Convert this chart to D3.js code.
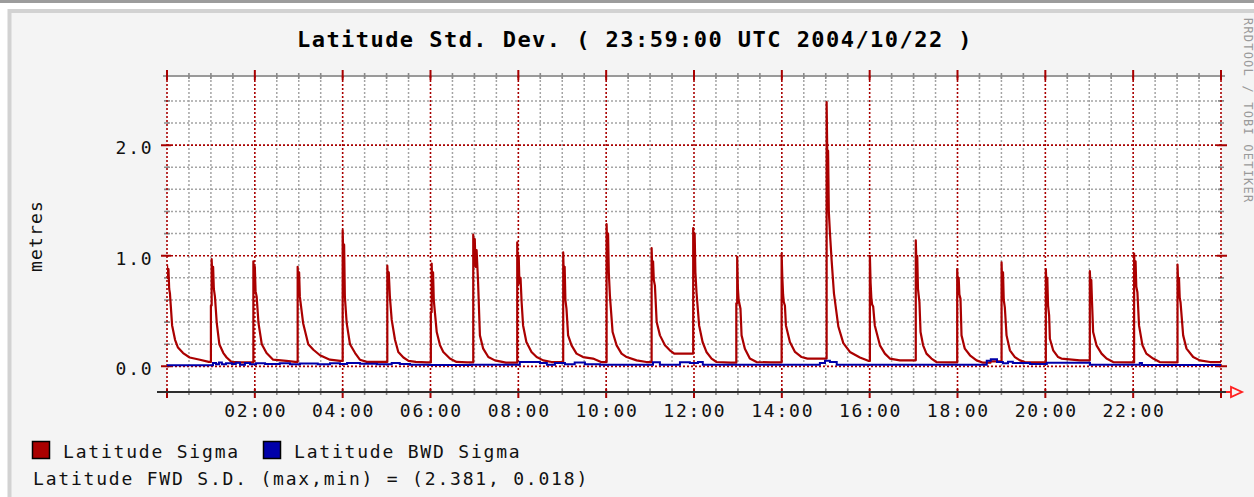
<!DOCTYPE html>
<html>
<head>
<meta charset="utf-8">
<script src="https://cdn.jsdelivr.net/npm/d3@7"></script>
<style>
  html, body { margin: 0; padding: 0; background: #ffffff; }
  svg { display: block; }
  text { font-family: "DejaVu Sans Mono", "Liberation Mono", monospace; }
</style>
</head>
<body>
<svg id="chart" width="1254" height="497"></svg>
<script>
// ── Data (minutes since 00:00 UTC, metres) ───────────────────
const fwdSigma = [
  [0,0.92],[1,0.80],[2,0.88],[3,0.70],[4,0.66],[7,0.37],[11,0.24],[15,0.17],[22,0.12],[31,0.08],[45,0.06],[57,0.04],
  [60,0.55],[61,0.97],[62,0.80],[63,0.90],[64,0.70],[65.5,0.63],[68,0.39],[71.5,0.20],[77,0.12],[81.5,0.08],[88,0.04],[100,0.035],
  [118,0.95],[119,0.78],[120,0.90],[121,0.68],[122.5,0.63],[125,0.39],[129.5,0.20],[136,0.12],[145,0.06],[163,0.05],[175,0.04],
  [178.5,0.90],[179.5,0.75],[180.5,0.85],[181.5,0.63],[186,0.39],[193,0.20],[200,0.15],[209,0.10],[222.5,0.06],[236.5,0.05],
  [240,1.23],[241,0.95],[242,1.10],[243,0.63],[245.5,0.39],[250,0.20],[257,0.12],[263.5,0.06],[273,0.04],
  [301,0.91],[302,0.75],[303,0.85],[304.5,0.63],[307,0.42],[311.5,0.24],[316,0.13],[323,0.08],[330,0.05],[340,0.04],[355,0.035],
  [360.5,0.49],[361.6,0.93],[362.5,0.70],[363.5,0.85],[364.5,0.60],[366,0.49],[368.5,0.31],[373,0.19],[377.5,0.13],[386.5,0.07],[395.5,0.04],[410,0.035],
  [418.4,1.19],[419.5,0.95],[420.5,1.15],[421.5,0.90],[423,1.05],[425,0.76],[427.5,0.28],[432,0.16],[439,0.084],[448,0.054],[463,0.033],
  [478.5,1.12],[479.5,0.85],[480.5,1.0],[481.5,0.75],[483,0.80],[484.5,0.58],[486.5,0.37],[491,0.22],[498,0.13],[505,0.084],[514,0.054],[525.5,0.039],
  [541.3,1.03],[542.3,0.75],[543.3,0.90],[544.3,0.60],[545.8,0.52],[548,0.28],[552.7,0.19],[559.5,0.115],[568.5,0.084],[582,0.07],[593,0.039],
  [600.6,1.285],[601.6,1.0],[602.6,1.2],[603.6,0.85],[605.1,0.64],[608.8,0.31],[614.3,0.19],[621,0.115],[628,0.084],[641.6,0.054],[655,0.039],
  [662.1,1.07],[663.1,0.85],[664.1,0.95],[665.1,0.78],[666.6,0.73],[669,0.40],[673.5,0.28],[680.3,0.19],[687,0.145],[693,0.115],
  [718.9,1.25],[719.9,1.0],[720.9,1.2],[721.9,0.85],[723.4,0.67],[727,0.37],[731.7,0.22],[737,0.13],[744,0.07],[750.8,0.039],[770,0.033],
  [777.8,0.57],[779,0.99],[780,0.70],[781,0.60],[783.5,0.52],[785,0.28],[789.5,0.16],[796.3,0.07],[805.4,0.039],[825,0.035],
  [839.7,1.02],[840.7,0.80],[841.7,0.65],[842.7,0.58],[844.2,0.55],[845.6,0.37],[851,0.22],[858,0.13],[867,0.084],[875,0.07],
  [901.2,2.39],[902.2,1.86],[903.2,1.95],[904.2,1.40],[905.7,1.21],[908,0.96],[911.2,0.66],[917.2,0.36],[924,0.21],[933,0.13],[946.7,0.08],[958,0.05],
  [960.3,1.0],[961.3,0.75],[962.3,0.62],[963.3,0.56],[964.8,0.54],[967,0.37],[974,0.19],[980.8,0.115],[987.6,0.07],[1001.3,0.054],
  [1023,1.14],[1024,0.90],[1025,1.0],[1026,0.70],[1028,0.58],[1029.5,0.31],[1033,0.19],[1037.6,0.115],[1044.4,0.07],[1051.2,0.039],[1070,0.035],
  [1079.6,0.88],[1080.6,0.70],[1081.6,0.80],[1082.6,0.65],[1084.1,0.61],[1085.5,0.28],[1090,0.16],[1097,0.10],[1106,0.054],[1115,0.033],[1125,0.045],
  [1140.2,0.94],[1141.2,0.70],[1142.2,0.85],[1143.2,0.60],[1144.7,0.53],[1147,0.28],[1151.6,0.145],[1158.4,0.084],[1165.2,0.054],[1172,0.039],[1195,0.035],
  [1200.7,0.88],[1201.7,0.70],[1202.7,0.80],[1203.7,0.55],[1205.2,0.46],[1206.2,0.25],[1210.7,0.145],[1217.5,0.084],[1222,0.07],[1247,0.054],
  [1260.8,0.86],[1261.8,0.70],[1262.8,0.78],[1263.8,0.58],[1265.3,0.31],[1269.9,0.19],[1276.8,0.115],[1283.6,0.07],[1292.7,0.039],[1315,0.035],
  [1321.3,1.02],[1322.3,0.80],[1323.3,0.95],[1324.3,0.72],[1325.8,0.67],[1328,0.37],[1332.7,0.19],[1338,0.115],[1347.3,0.07],[1356.3,0.039],[1375,0.035],
  [1380.6,0.92],[1381.6,0.72],[1382.6,0.80],[1383.6,0.62],[1384.7,0.58],[1388.3,0.28],[1392.9,0.16],[1402,0.084],[1411,0.054],[1425,0.039],[1440,0.039]
];

const bwdSigma = [
  [0,0.010],[62.8,0.030],[67,0.020],[71,0.035],[75,0.018],[80.6,0.028],[88.8,0.022],[94,0.032],[99.7,0.015],
  [106.5,0.030],[113.4,0.020],[121.6,0.028],[134,0.022],[154,0.028],[168,0.020],[181.7,0.025],[206,0.018],
  [222.7,0.028],[236.3,0.022],[246,0.030],[263.6,0.024],[287,0.020],[307,0.030],[318,0.022],[332,0.015],
  [359,0.012],[414,0.015],[482,0.040],[509.5,0.030],[519,0.015],[530,0.030],[543.7,0.018],[557,0.035],
  [571,0.020],[591.5,0.015],[664,0.038],[673.4,0.015],[700.8,0.038],[714.4,0.030],[725.4,0.040],[732,0.015],
  [892,0.030],[899,0.050],[905.7,0.040],[915,0.015],[1120,0.050],[1125.5,0.065],[1134,0.040],[1142,0.028],
  [1149,0.042],[1155.6,0.030],[1169,0.030],[1179,0.022],[1202,0.033],[1261,0.015],[1285,0.015],[1329,0.030],
  [1332,0.012],[1440,0.012]
];

const majorMinutes = [0,120,240,360,480,600,720,840,960,1080,1200,1320,1440];
const minorMinutes = [30,60,90,150,180,210,270,300,330,390,420,450,510,540,570,630,660,690,750,780,810,
                      870,900,930,990,1020,1050,1110,1140,1170,1230,1260,1290,1350,1380,1410];
const timeLabels   = ["02:00","04:00","06:00","08:00","10:00","12:00","14:00","16:00","18:00","20:00","22:00"];
const labelMinutes = [120,240,360,480,600,720,840,960,1080,1200,1320];

const yMajor  = [0, 1, 2];
const yLabels = ["0.0", "1.0", "2.0"];
const yMinor  = [0.2,0.4,0.6,0.8,1.2,1.4,1.6,1.8,2.2,2.4];

const legendNames = ["Latitude Sigma", "Latitude BWD Sigma"];
const legendColors = ["#aa0000", "#0000aa"];
const fwdStats = [2.381, 0.018];

// ── Layout ───────────────────────────────────────────────────
const PLOT = { left: 167, right: 1221, top: 76, bottom: 392 };
const MONO = 1.8;   // letter-spacing for the small pixel-ish font

const svg = d3.select("#chart");

const x = d3.scaleLinear().domain([0, 1440]).range([PLOT.left, PLOT.right]);
const y = d3.scaleLinear().domain([-0.232, 2.625]).range([PLOT.bottom, PLOT.top]);

// page furniture
svg.append("rect").attr("x", 0).attr("y", 0).attr("width", 1254).attr("height", 3).attr("fill", "#9c9c9c");
svg.append("rect").attr("x", 9.5).attr("y", 11).attr("width", 1260).attr("height", 500)
  .attr("fill", "#f4f4f4").attr("stroke", "#d2d2d2").attr("stroke-width", 4);

// plot canvas
svg.append("rect")
  .attr("x", PLOT.left).attr("y", PLOT.top)
  .attr("width", PLOT.right - PLOT.left).attr("height", PLOT.bottom - PLOT.top)
  .attr("fill", "#ffffff");

const grid = svg.append("g");
const GRAY = "#a4a4a4", RED = "#a80000";

// minor vertical grid
grid.selectAll(".vmin").data(minorMinutes).join("line")
  .attr("x1", d => x(d)).attr("x2", d => x(d))
  .attr("y1", PLOT.top).attr("y2", PLOT.bottom)
  .attr("stroke", GRAY).attr("stroke-width", 1.5).attr("stroke-dasharray", "2,2");
// minor horizontal grid
grid.selectAll(".hmin").data(yMinor).join("line")
  .attr("x1", PLOT.left).attr("x2", PLOT.right)
  .attr("y1", d => y(d)).attr("y2", d => y(d))
  .attr("stroke", GRAY).attr("stroke-width", 1.5).attr("stroke-dasharray", "2,2");

// top edge
grid.append("line")
  .attr("x1", PLOT.left - 4).attr("x2", PLOT.right + 4)
  .attr("y1", PLOT.top).attr("y2", PLOT.top)
  .attr("stroke", "#9a9a9a").attr("stroke-width", 2);

// minor ticks
grid.selectAll(".vtick").data(minorMinutes).join("path")
  .attr("d", d => `M${x(d)},${PLOT.top - 3}V${PLOT.top + 3}M${x(d)},${PLOT.bottom - 3}V${PLOT.bottom + 3}`)
  .attr("stroke", "#8a8a8a").attr("stroke-width", 1.6);
grid.selectAll(".htick").data(yMinor).join("path")
  .attr("d", d => `M${PLOT.left - 3},${y(d)}H${PLOT.left + 3}M${PLOT.right - 3},${y(d)}H${PLOT.right + 3}`)
  .attr("stroke", "#8a8a8a").attr("stroke-width", 1.6);

// major grid
grid.selectAll(".vmaj").data(majorMinutes).join("line")
  .attr("x1", d => x(d)).attr("x2", d => x(d))
  .attr("y1", PLOT.top).attr("y2", PLOT.bottom)
  .attr("stroke", RED).attr("stroke-width", 1.6).attr("stroke-dasharray", "2,2");
grid.selectAll(".hmaj").data(yMajor).join("line")
  .attr("x1", PLOT.left).attr("x2", PLOT.right)
  .attr("y1", d => y(d)).attr("y2", d => y(d))
  .attr("stroke", RED).attr("stroke-width", 1.6).attr("stroke-dasharray", "2,2");
grid.selectAll(".vmajtick").data(majorMinutes).join("path")
  .attr("d", d => `M${x(d)},${PLOT.top - 6}V${PLOT.top + 4}M${x(d)},${PLOT.bottom - 3}V${PLOT.bottom + 6}`)
  .attr("stroke", RED).attr("stroke-width", 2);
grid.selectAll(".hmajtick").data(yMajor).join("path")
  .attr("d", d => `M${PLOT.left - 6},${y(d)}H${PLOT.left + 4}M${PLOT.right - 4},${y(d)}H${PLOT.right + 6}`)
  .attr("stroke", RED).attr("stroke-width", 2);

// ── Series ───────────────────────────────────────────────────
svg.append("defs").append("clipPath").attr("id", "plot-clip")
  .append("rect").attr("x", PLOT.left).attr("y", PLOT.top - 2)
  .attr("width", PLOT.right - PLOT.left + 1).attr("height", PLOT.bottom - PLOT.top + 2);

// rises are drawn as vertical steps, decays as straight segments
function spikePath(data) {
  const p = d3.path();
  data.forEach((d, i) => {
    const px = x(d[0]), py = y(d[1]);
    if (i === 0) { p.moveTo(px, py); return; }
    const prev = data[i - 1];
    if (d[1] > prev[1]) { p.lineTo(px, y(prev[1])); }
    p.lineTo(px, py);
  });
  return p.toString();
}

const stepLine = d3.line()
  .x(d => x(d[0]))
  .y(d => y(d[1]))
  .curve(d3.curveStepAfter);

const series = svg.append("g").attr("clip-path", "url(#plot-clip)");
series.append("path")
  .attr("d", spikePath(fwdSigma)).attr("fill", "none")
  .attr("stroke", legendColors[0]).attr("stroke-width", 2.2).attr("stroke-linejoin", "round");
series.append("path").datum(bwdSigma)
  .attr("d", stepLine).attr("fill", "none")
  .attr("stroke", legendColors[1]).attr("stroke-width", 2);

// x axis + arrow
svg.append("line")
  .attr("x1", PLOT.left - 10).attr("x2", PLOT.right + 5)
  .attr("y1", PLOT.bottom).attr("y2", PLOT.bottom)
  .attr("stroke", "#2e2e2e").attr("stroke-width", 2);
svg.append("line")
  .attr("x1", PLOT.right + 5).attr("x2", PLOT.right + 10)
  .attr("y1", PLOT.bottom).attr("y2", PLOT.bottom)
  .attr("stroke", "#ff2020").attr("stroke-width", 2);
svg.append("path")
  .attr("d", `M${PLOT.right + 10},${PLOT.bottom - 5}V${PLOT.bottom + 5}L${PLOT.right + 21},${PLOT.bottom}Z`)
  .attr("fill", "none").attr("stroke", "#ff2020").attr("stroke-width", 1.8);

// ── Text ─────────────────────────────────────────────────────
svg.append("text")
  .attr("x", 635).attr("y", 47).attr("text-anchor", "middle")
  .attr("font-size", 22).attr("font-weight", "bold").attr("letter-spacing", 1.45)
  .attr("fill", "#000")
  .text("Latitude Std. Dev. ( 23:59:00 UTC 2004/10/22 )");

svg.selectAll(".xlab").data(timeLabels).join("text")
  .attr("x", (d, i) => x(labelMinutes[i]) + MONO / 2)
  .attr("y", 417).attr("text-anchor", "middle")
  .attr("font-size", 18).attr("letter-spacing", MONO).attr("fill", "#111")
  .text(d => d);

svg.selectAll(".ylab").data(yLabels).join("text")
  .attr("x", 153.5).attr("y", (d, i) => y(yMajor[i]) + 9)
  .attr("text-anchor", "end")
  .attr("font-size", 18).attr("letter-spacing", MONO).attr("fill", "#111")
  .text(d => d);

svg.append("text")
  .attr("transform", "translate(41.5,236) rotate(-90)")
  .attr("text-anchor", "middle")
  .attr("font-size", 18).attr("letter-spacing", 1.2).attr("fill", "#111")
  .text("metres");

svg.append("text")
  .attr("transform", "translate(1244,18) rotate(90)")
  .attr("font-size", 12).attr("letter-spacing", 1.2).attr("fill", "#9a9a9a")
  .text("RRDTOOL / TOBI OETIKER");

// legend
const legendX = [32.5, 263.5];
legendNames.forEach((name, i) => {
  svg.append("rect")
    .attr("x", legendX[i]).attr("y", 441.5).attr("width", 17).attr("height", 17)
    .attr("fill", legendColors[i]).attr("stroke", "#000").attr("stroke-width", 1.5);
  svg.append("text")
    .attr("x", legendX[i] + 30.5).attr("y", 458)
    .attr("font-size", 18).attr("letter-spacing", MONO).attr("fill", "#111")
    .text(name);
});

svg.append("text")
  .attr("x", 33).attr("y", 485)
  .attr("font-size", 18).attr("letter-spacing", MONO).attr("fill", "#111")
  .text(`Latitude FWD S.D. (max,min) = (${fwdStats[0].toFixed(3)}, ${fwdStats[1].toFixed(3)})`);
</script>
</body>
</html>
